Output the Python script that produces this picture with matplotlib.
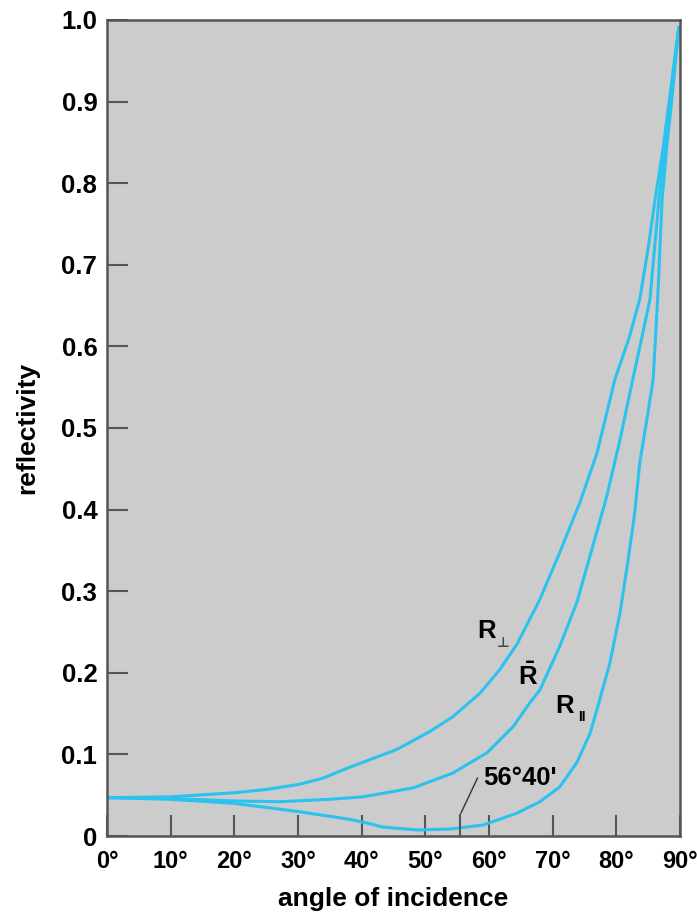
import matplotlib.pyplot as plt
import numpy as np

plt.rcParams['font.family'] = ['Liberation Sans', 'DejaVu Sans']
plt.rcParams['font.weight'] = 'bold'
plt.rcParams['mathtext.fontset'] = 'custom'
plt.rcParams['mathtext.rm'] = 'Liberation Sans:bold'
plt.rcParams['mathtext.bf'] = 'Liberation Sans:bold'

# valores (angulo em graus, refletividade)
ang_perp = [0, 10, 20, 25, 30, 34, 37.7, 45.5, 50.7, 54.3, 58.6, 61.7, 64.4, 68, 71.1, 74.3, 77, 79.8, 82, 83.7, 85, 86.1, 87.3, 88.3, 89.8]
r_perp = [0.047, 0.048, 0.053, 0.057, 0.063, 0.071, 0.083, 0.106, 0.128, 0.146, 0.175, 0.204, 0.235, 0.29, 0.347, 0.409, 0.47, 0.56, 0.61, 0.658, 0.72, 0.78, 0.84, 0.90, 0.99]

ang_med = [0, 10, 20, 27, 35, 40.2, 48.1, 54.3, 59.7, 63.8, 66.4, 68, 71.1, 73.8, 76.3, 78.5, 80.6, 82.6, 84, 85.3, 86.7, 87.7, 88.5, 89.8]
r_med = [0.047, 0.046, 0.043, 0.042, 0.045, 0.048, 0.059, 0.077, 0.102, 0.134, 0.163, 0.179, 0.232, 0.286, 0.355, 0.416, 0.486, 0.56, 0.61, 0.658, 0.78, 0.85, 0.90, 0.99]

ang_par = [0, 10, 20, 30, 37.7, 40.8, 43.3, 48.7, 53.9, 59.1, 64.4, 68, 71.1, 73.8, 75.9, 77.4, 79.0, 80.6, 81.8, 82.9, 83.7, 84.8, 85.8, 86.5, 87.2, 88.0, 88.7, 89.8]
r_par = [0.047, 0.045, 0.040, 0.030, 0.021, 0.016, 0.011, 0.0074, 0.0086, 0.0135, 0.028, 0.042, 0.060, 0.090, 0.126, 0.167, 0.212, 0.274, 0.335, 0.396, 0.458, 0.51, 0.56, 0.658, 0.78, 0.85, 0.90, 0.99]

x_ticks = [0, 10, 20, 30, 40, 50, 60, 70, 80, 90]
y_ticks = [0, 0.1, 0.2, 0.3, 0.4, 0.5, 0.6, 0.7, 0.8, 0.9, 1.0]
y_labels = ['0', '0.1', '0.2', '0.3', '0.4', '0.5', '0.6', '0.7', '0.8', '0.9', '1.0']

cor = '#2cc2ee'
cinza = '#555555'

fig = plt.figure(figsize=(6.97, 9.19), dpi=100)
ax = fig.add_axes([0.1535, 0.0903, 0.822, 0.888])
ax.set_facecolor('#cccccc')

ax.plot(ang_perp, r_perp, color=cor, lw=2.2, solid_joinstyle='round')
ax.plot(ang_med, r_med, color=cor, lw=2.2, solid_joinstyle='round')
ax.plot(ang_par, r_par, color=cor, lw=2.2, solid_joinstyle='round')

ax.set_xlim(0, 90)
ax.set_ylim(0, 1.0)
ax.set_xticks(x_ticks)
ax.set_xticklabels([f'{a}°' for a in x_ticks])
ax.set_yticks(y_ticks)
ax.set_yticklabels(y_labels)
ax.tick_params(direction='in', length=15, width=1.5, color=cinza)
ax.tick_params(axis='x', pad=10, labelsize=17)
ax.tick_params(axis='y', pad=7, labelsize=18.5)
for s in ax.spines.values():
    s.set_color(cinza)
    s.set_linewidth(1.8)

ax.set_xlabel('angle of incidence', fontsize=19, fontweight='bold', labelpad=10)
ax.set_ylabel('reflectivity', fontsize=19, fontweight='bold', labelpad=16)

# rotulos das curvas
ax.text(58.1, 0.243, 'R', fontsize=18.5, ha='left', va='baseline')
ax.text(61.3, 0.232, '⊥', fontsize=10, ha='left', va='baseline', color='#444444')
ax.text(64.6, 0.185, r'$\bar{\mathrm{R}}$', fontsize=18.5, ha='left', va='baseline')
ax.text(70.4, 0.151, 'R', fontsize=18.5, ha='left', va='baseline')
ax.text(74.0, 0.141, 'II', fontsize=10, ha='left', va='baseline')
ax.text(59.1, 0.063, "56°40'", fontsize=18.5, ha='left', va='baseline')

# marcador do angulo de Brewster
ax.plot([55.4, 55.4], [0, 0.026], color=cinza, lw=1.5)
ax.plot([55.6, 58.2], [0.028, 0.071], color='#333333', lw=1.0)

plt.savefig('out.png', dpi=100)
